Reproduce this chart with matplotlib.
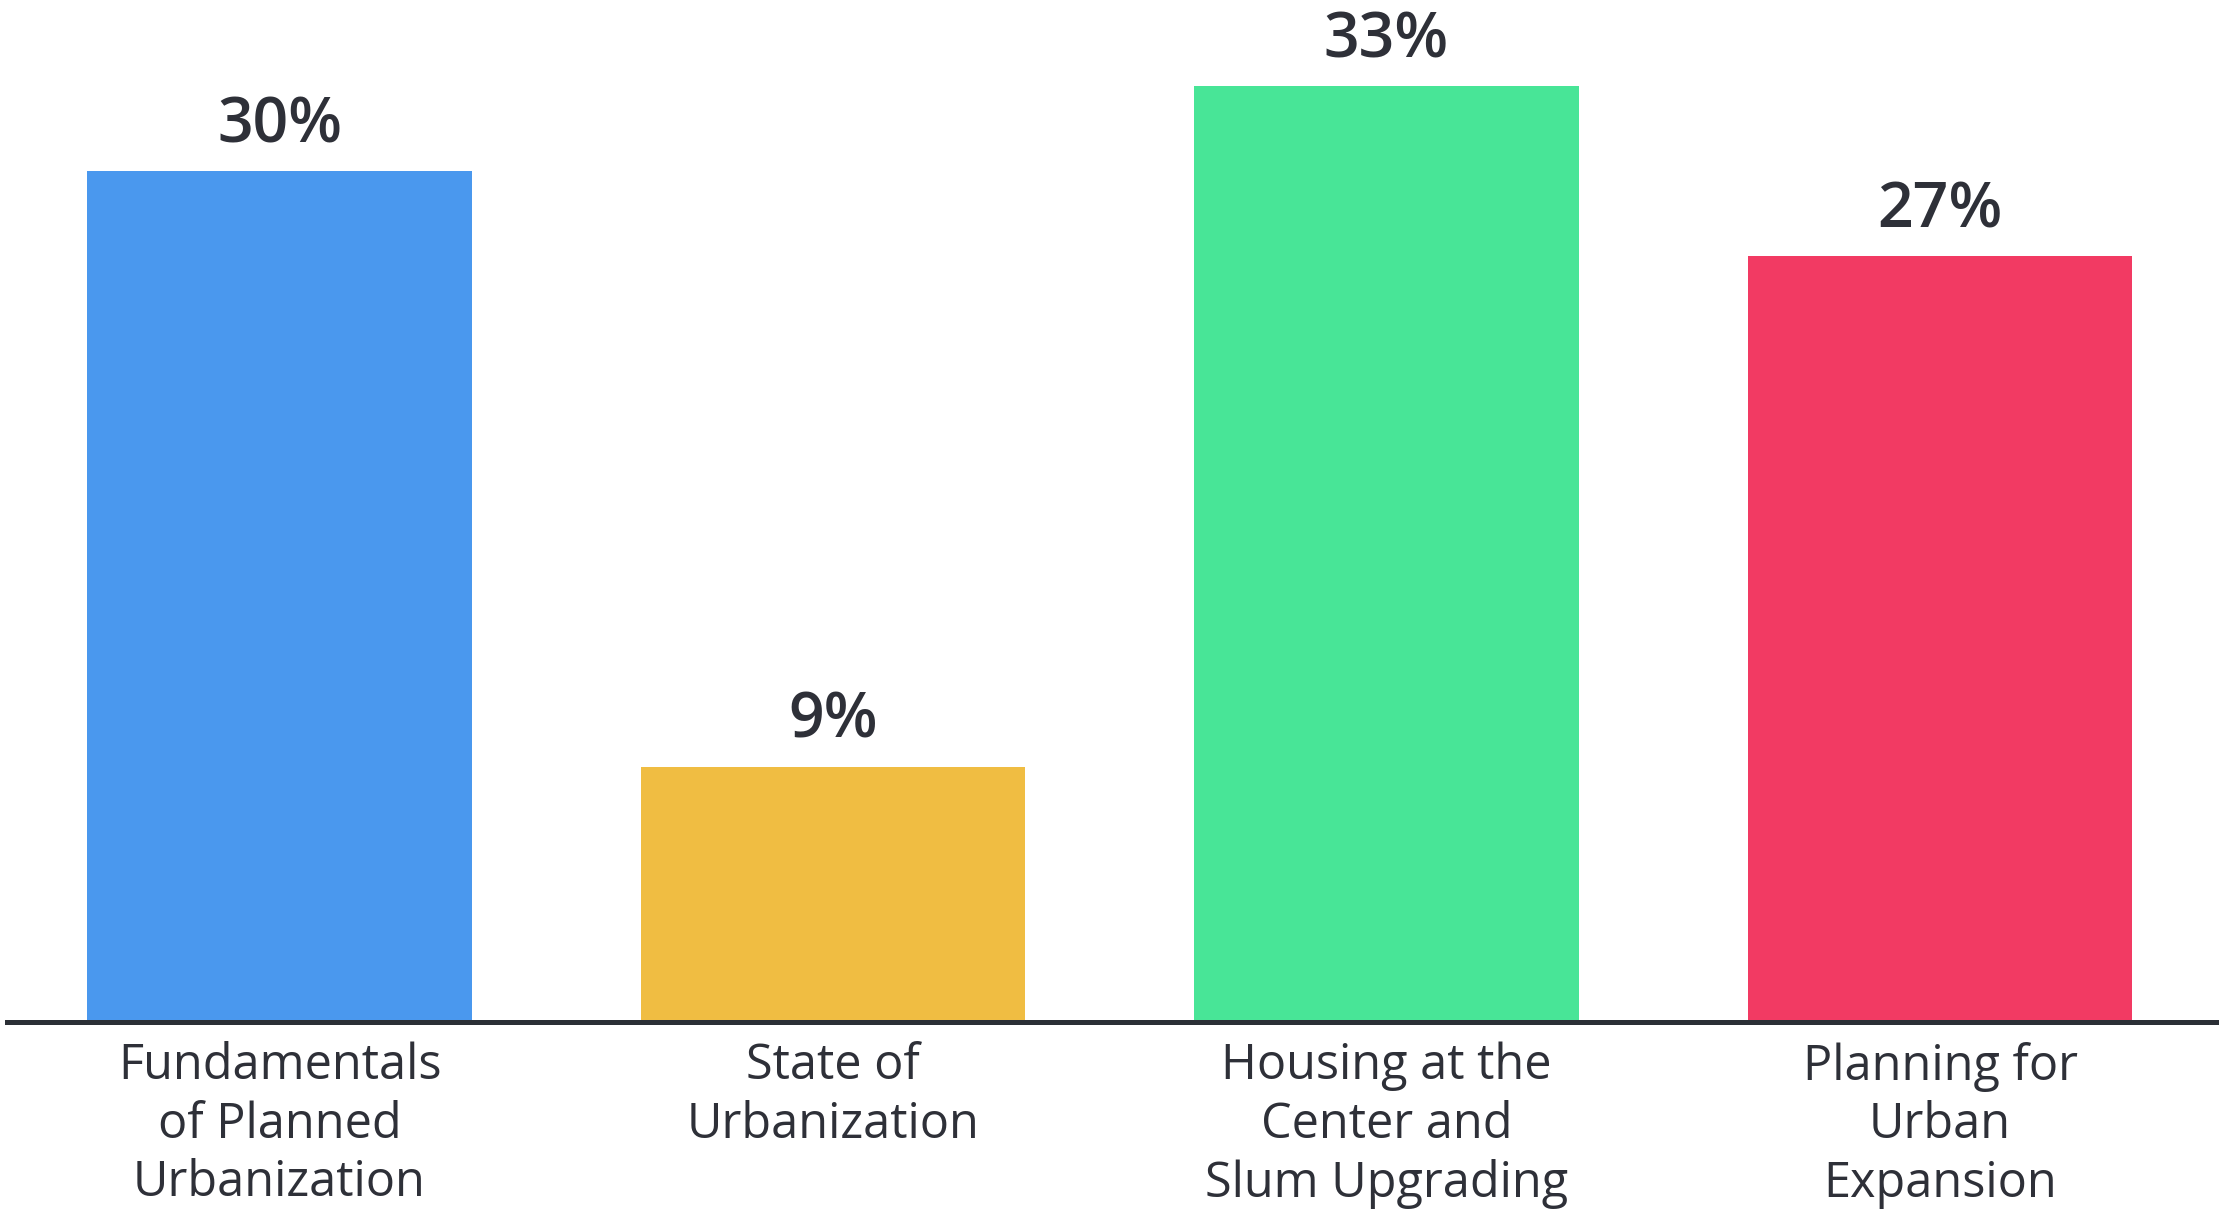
import matplotlib
matplotlib.use("Agg")
import matplotlib.pyplot as plt

# Share of content by topic
topics = [
    "Fundamentals\nof Planned\nUrbanization",
    "State of\nUrbanization",
    "Housing at the\nCenter and\nSlum Upgrading",
    "Planning for\nUrban\nExpansion",
]
shares = [30, 9, 33, 27]
colors = ["#4A98EE", "#F0BD42", "#48E597", "#F23A63"]

plt.rcParams["font.family"] = ["Open Sans", "DejaVu Sans"]
text_color = "#2E3038"

fig = plt.figure(figsize=(22.19, 12.11), dpi=100)
ax = fig.add_axes([0.003, 0.156, 0.996, 0.843])

x = range(len(shares))
ax.bar(x, shares, width=0.695, color=colors, zorder=2)
for xi, v in zip(x, shares):
    ax.annotate(f"{v}%", (xi, v), xytext=(0, 10), textcoords="offset points",
                ha="center", va="bottom", fontsize=45, fontweight="semibold",
                color=text_color)

ax.set_xlim(-0.493, 3.5)
ax.set_ylim(0, 36)
ax.set_xticks(list(x))
ax.set_xticklabels(topics, fontsize=35, color=text_color, linespacing=1.24,
                   fontweight="medium")
ax.tick_params(axis="x", length=0, pad=14)
ax.set_yticks([])
for side in ["top", "left", "right"]:
    ax.spines[side].set_visible(False)
ax.spines["bottom"].set_linewidth(3.6)
ax.spines["bottom"].set_color("#2B2F36")
ax.spines["bottom"].set_zorder(3)

fig.savefig("out.png", dpi=100)
